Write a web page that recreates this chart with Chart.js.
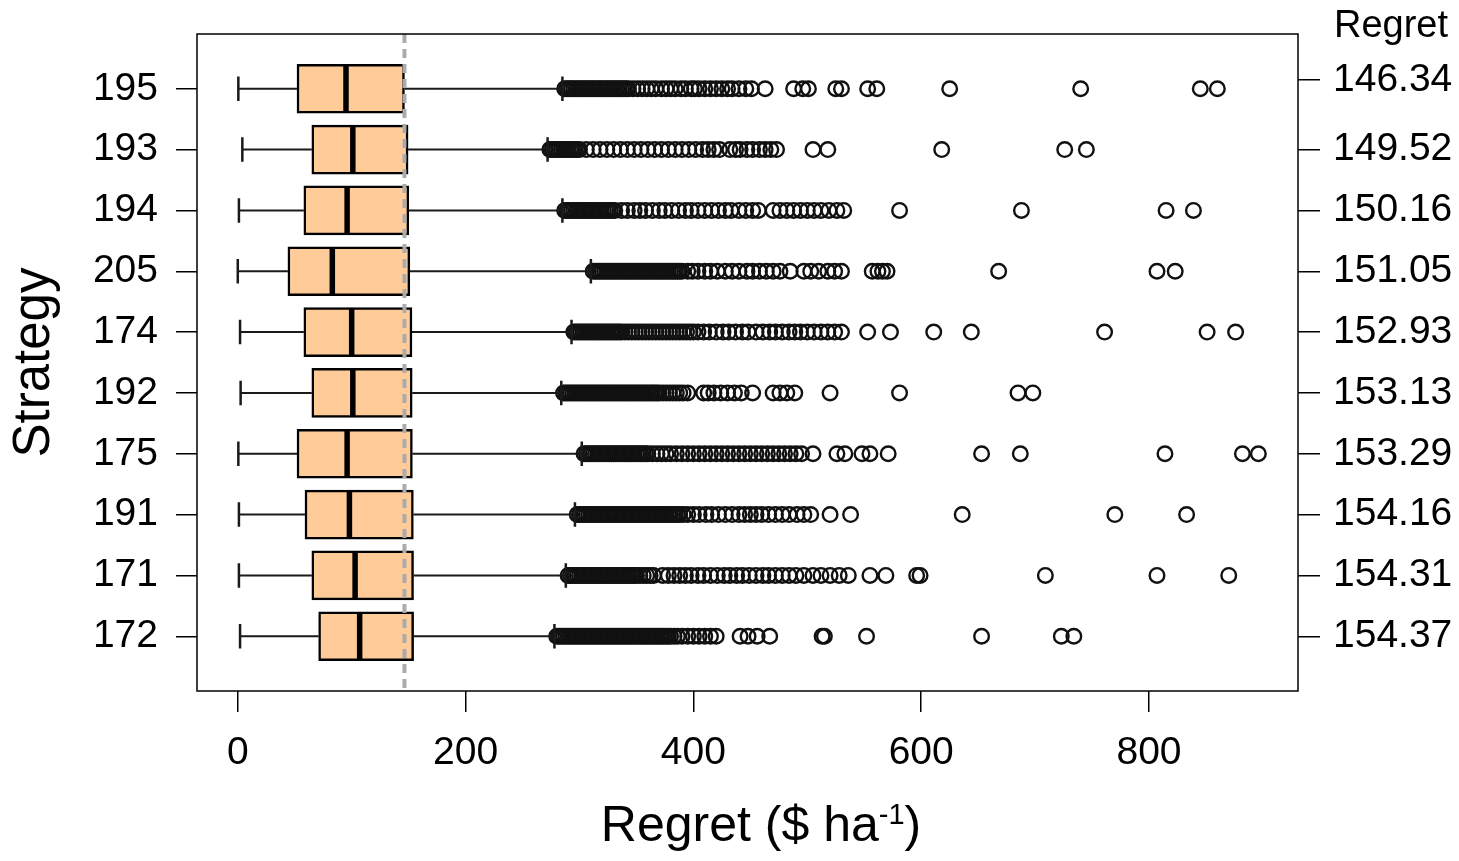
<!DOCTYPE html>
<html>
<head>
<meta charset="utf-8">
<title>Regret by strategy</title>
<script src="https://cdn.jsdelivr.net/npm/chart.js@4.4.1/dist/chart.umd.min.js"></script>
<style>
  html, body { margin: 0; padding: 0; background: #fff; }
  #wrap { width: 1459px; height: 861px; position: relative; }
</style>
</head>
<body>
<div id="wrap"><canvas id="chart"></canvas></div>
<script>
// ── Data ────────────────────────────────────────────────────────
const strategies = ['195', '193', '194', '205', '174', '192', '175', '191', '171', '172'];
const regret     = [146.34, 149.52, 150.16, 151.05, 152.93, 153.13, 153.29, 154.16, 154.31, 154.37];
const rowPos     = [1, 2, 3, 4, 5, 6, 7, 8, 9, 10];
const regretTickPos = [0.86, 2, 3, 4, 5, 6, 7, 8, 9, 10];
const xTicks     = [0, 200, 400, 600, 800];

const whiskerLow  = [0.5, 4, 1, 0, 2, 2.5, 0.5, 1, 1, 2];
const q1          = [52, 65, 58, 44, 58, 65, 52, 59, 65, 71];
const median      = [95, 101, 96, 83, 100, 101, 96, 98, 103, 107];
const q3          = [146.34, 149.52, 150.16, 151.05, 152.93, 153.13, 153.29, 154.16, 154.31, 154.37];
const whiskerHigh = [285, 272, 285, 310, 293, 284, 302, 296, 288, 278];

// outliers per strategy (the packed runs are where the circles merge into a black band)
const out195 = [287,289,291,293,295,297,299,301,303,305,307,309,311,313,315,317,319,321,323,325,
  327,329,331,333,335,337,339,341,343,
  347,351,355,359,363,367,372,376,380,384,389,393,398,401,405,410,415,420,425,430,434,440,446,451,
  463,488,496,501,525,530,553,561,625,740,845,860];
const out193 = [274,276,278,280,282,284,286,288,290,292,294,296,298,300,
  306,312,318,324,330,336,342,348,354,360,366,372,378,384,390,396,402,408,413,418,423,
  432,437,441,447,452,458,463,468,473,505,518,618,726,745];
const out194 = [287,289,291,293,295,297,299,301,303,305,307,309,311,313,315,317,319,321,323,325,
  327,329,331,
  337,342,348,353,358,364,370,375,381,387,393,398,404,410,416,422,428,433,440,446,452,457,
  470,476,482,488,494,500,506,512,519,526,532,581,688,815,839];
const out205 = [312,314,316,318,320,322,324,326,328,330,332,334,336,338,340,342,344,346,348,350,
  352,354,356,358,360,362,364,366,368,370,372,374,376,378,380,382,384,386,388,390,
  395,399,404,410,415,421,428,434,440,447,452,458,464,470,476,
  485,497,503,510,518,524,530,557,562,566,570,668,807,823];
const out174 = [295,297,299,301,303,305,307,309,311,313,315,317,319,321,323,325,327,329,331,333,
  335,337,340,343,346,349,352,355,358,361,364,367,370,373,376,379,382,385,388,391,394,397,400,
  404,409,414,420,426,431,437,443,448,455,461,467,472,478,484,489,494,500,506,512,518,524,530,
  553,573,611,644,761,851,876];
const out192 = [286,288,290,292,294,296,298,300,302,304,306,308,310,312,314,316,318,320,322,324,
  326,328,330,332,334,336,338,340,342,344,346,348,350,352,354,356,358,360,362,364,366,368,370,
  373,376,379,382,385,388,391,395,
  409,413,418,424,430,436,442,452,470,476,482,489,520,581,685,698];
const out175 = [304,306,308,310,312,314,316,318,320,322,324,326,328,330,332,334,336,338,340,342,
  344,346,348,350,352,354,356,358,360,
  364,368,372,376,380,385,390,395,400,405,410,415,420,425,430,435,440,445,450,455,460,465,470,
  475,480,485,490,495,505,526,533,548,555,571,653,687,814,882,896];
const out191 = [298,300,302,304,306,308,310,312,314,316,318,320,322,324,326,328,330,332,334,336,
  338,340,342,344,346,348,350,352,354,356,358,360,362,364,366,368,370,372,374,376,378,380,382,
  384,386,388,
  391,395,400,405,411,416,422,428,434,440,445,450,455,460,466,472,478,484,491,497,503,
  520,538,636,770,833];
const out171 = [290,292,294,296,298,300,302,304,306,308,310,312,314,316,318,320,322,324,326,328,
  330,332,334,336,338,340,342,344,346,348,350,353,356,359,362,365,
  373,378,383,388,393,398,404,409,415,421,427,432,438,443,449,455,461,466,472,478,484,490,497,
  505,512,520,528,536,555,569,596,599,709,807,870];
const out172 = [280,282,284,286,288,290,292,294,296,298,300,302,304,306,308,310,312,314,316,318,
  320,322,324,326,328,330,332,334,336,338,340,342,344,346,348,350,352,354,356,358,360,362,364,
  366,368,370,372,374,376,378,380,
  383,386,390,395,400,405,410,415,420,441,448,456,467,513,515,552,653,723,734];

const outlierRows = [out195, out193, out194, out205, out174, out192, out175, out191, out171, out172];

// ── Look ────────────────────────────────────────────────────────
const FONT = "'Liberation Sans', Arial, sans-serif";
const BOX_FILL = '#FFCC99';
const BOX_H = 49;

Chart.defaults.font.family = FONT;
Chart.defaults.color = '#000';

// whiskers, caps, medians, reference line and frame
const boxParts = {
  id: 'boxParts',
  afterDatasetsDraw(chart) {
    const { ctx, chartArea, scales: { x, y } } = chart;
    ctx.save();
    ctx.strokeStyle = '#1a1a1a';
    strategies.forEach((s, i) => {
      const py = y.getPixelForValue(rowPos[i]);
      const xl = x.getPixelForValue(whiskerLow[i]);
      const xa = x.getPixelForValue(q1[i]);
      const xb = x.getPixelForValue(q3[i]);
      const xh = x.getPixelForValue(whiskerHigh[i]);
      const xm = x.getPixelForValue(median[i]);

      ctx.lineWidth = 2;
      ctx.beginPath();
      ctx.moveTo(xl, py); ctx.lineTo(xa, py);
      ctx.moveTo(xb, py); ctx.lineTo(xh, py);
      ctx.stroke();

      ctx.lineWidth = 2.5;
      ctx.beginPath();
      ctx.moveTo(xl, py - BOX_H / 4); ctx.lineTo(xl, py + BOX_H / 4);
      ctx.moveTo(xh, py - BOX_H / 4); ctx.lineTo(xh, py + BOX_H / 4);
      ctx.stroke();

      ctx.strokeStyle = '#000';
      ctx.lineWidth = 5.5;
      ctx.beginPath();
      ctx.moveTo(xm, py - BOX_H / 2 + 1); ctx.lineTo(xm, py + BOX_H / 2 - 1);
      ctx.stroke();
      ctx.strokeStyle = '#1a1a1a';
    });

    // dashed line at the lowest regret
    const xr = x.getPixelForValue(Math.min(...regret));
    ctx.strokeStyle = '#ABABAB';
    ctx.lineWidth = 4;
    ctx.setLineDash([9, 6]);
    ctx.beginPath();
    ctx.moveTo(xr, chartArea.top);
    ctx.lineTo(xr, chartArea.bottom);
    ctx.stroke();
    ctx.setLineDash([]);

    // plot frame
    ctx.strokeStyle = '#000';
    ctx.lineWidth = 1.5;
    ctx.strokeRect(chartArea.left, chartArea.top,
                   chartArea.right - chartArea.left, chartArea.bottom - chartArea.top);
    ctx.restore();
  }
};

// header over right axis + x title with superscript
const extraText = {
  id: 'extraText',
  afterDraw(chart) {
    const { ctx } = chart;
    ctx.save();
    ctx.fillStyle = '#000';
    ctx.textBaseline = 'alphabetic';

    ctx.font = '38px ' + FONT;
    ctx.textAlign = 'right';
    ctx.fillText('Regret', 1448, 37);

    const big = '50px ' + FONT, small = '29px ' + FONT;
    const a = 'Regret ($ ha', b = '-1', c = ')';
    ctx.font = big;  const wa = ctx.measureText(a).width, wc = ctx.measureText(c).width;
    ctx.font = small; const wb = ctx.measureText(b).width;
    let x0 = 761 - (wa + wb + wc) / 2;
    ctx.textAlign = 'left';
    ctx.font = big;   ctx.fillText(a, x0, 841);
    ctx.font = small; ctx.fillText(b, x0 + wa, 824);
    ctx.font = big;   ctx.fillText(c, x0 + wa + wb, 841);
    ctx.restore();
  }
};

const tickGrid = { drawOnChartArea: false, drawTicks: true, offset: false, tickLength: 21, color: '#000', lineWidth: 1.5 };

new Chart(document.getElementById('chart'), {
  type: 'bar',
  data: {
    datasets: [
      {
        type: 'bar',
        data: strategies.map((s, i) => ({ x: [q1[i], q3[i]], y: rowPos[i] })),
        backgroundColor: BOX_FILL,
        borderColor: '#000',
        borderWidth: 2.5,
        borderSkipped: false,
        barThickness: BOX_H,
        xAxisID: 'x',
        yAxisID: 'y'
      },
      {
        type: 'scatter',
        data: outlierRows.flatMap((vals, i) => vals.map(v => ({ x: v, y: rowPos[i] }))),
        pointStyle: 'circle',
        pointRadius: 7.3,
        pointBorderWidth: 2.4,
        pointBorderColor: '#111',
        pointBackgroundColor: 'rgba(0,0,0,0)',
        xAxisID: 'x',
        yAxisID: 'y'
      }
    ]
  },
  options: {
    indexAxis: 'y',
    responsive: true,
    maintainAspectRatio: false,
    animation: false,
    events: [],
    layout: { padding: { top: 34, right: 0, bottom: 0, left: 0 } },
    plugins: {
      legend: { display: false },
      tooltip: { enabled: false }
    },
    scales: {
      x: {
        type: 'linear',
        position: 'bottom',
        offset: false,
        min: -35.8,
        max: 930.8,
        afterBuildTicks: s => { s.ticks = xTicks.map(v => ({ value: v })); },
        afterFit: s => { s.height = 170; },
        grid: tickGrid,
        border: { display: false },
        ticks: { font: { size: 39 }, padding: 18, color: '#000', maxRotation: 0, autoSkip: false }
      },
      y: {
        type: 'linear',
        position: 'left',
        offset: false,
        min: 0.1,
        max: 10.9,
        reverse: true,
        afterBuildTicks: s => { s.ticks = rowPos.map(v => ({ value: v })); },
        afterFit: s => { s.width = 197; },
        grid: tickGrid,
        border: { display: false },
        ticks: { font: { size: 39, lineHeight: 0.6 }, padding: 18, color: '#000', autoSkip: false,
                 callback: (v, i) => strategies[i] },
        title: { display: true, text: 'Strategy', font: { size: 51 }, padding: { top: 4, bottom: 0 }, color: '#000' }
      },
      y2: {
        type: 'linear',
        position: 'right',
        offset: false,
        min: 0.1,
        max: 10.9,
        reverse: true,
        afterBuildTicks: s => { s.ticks = regretTickPos.map(v => ({ value: v })); },
        afterFit: s => { s.width = 161; },
        grid: { ...tickGrid, tickLength: 22 },
        border: { display: false },
        ticks: { font: { size: 39, lineHeight: 0.6 }, padding: 13, color: '#000', autoSkip: false,
                 callback: (v, i) => regret[i].toFixed(2) }
      }
    }
  },
  plugins: [boxParts, extraText]
});
</script>
</body>
</html>
